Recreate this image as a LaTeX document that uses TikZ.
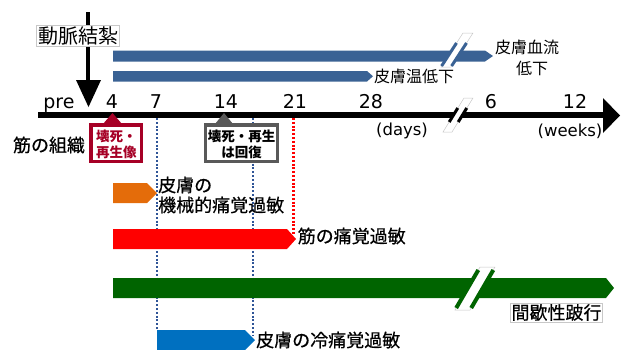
\documentclass[tikz,border=0pt]{standalone}
\usepackage{fontspec}
\newfontfamily\jp{Noto Sans CJK JP}
\newfontfamily\jpm[FakeBold=0.6]{Noto Sans CJK JP}
\newfontfamily\numf{DejaVu Sans}
\definecolor{bbar}{RGB}{58,98,148}
\definecolor{obar}{RGB}{228,108,10}
\definecolor{gbar}{RGB}{0,100,0}
\definecolor{cbar}{RGB}{0,112,192}
\definecolor{dred}{RGB}{166,0,38}
\definecolor{dgray}{RGB}{89,89,89}
\definecolor{dotblue}{RGB}{47,85,151}
\definecolor{lgray}{RGB}{200,200,200}
\newcommand\tlbar[6]{\fill[#1] (#2,#5) -- (#3,#5) -- (#4,{(#5+#6)/2}) -- (#3,#6) -- (#2,#6) -- cycle;}
\tikzset{
  ticklab/.style={font=\numf\fontsize{19}{19}\selectfont, inner sep=0pt, anchor=base},
  unitlab/.style={font=\numf\fontsize{16.5}{16.5}\selectfont, inner sep=0pt},
  lab/.style={font=\jp\fontsize{16}{19}\selectfont, inner sep=0pt},
  blab/.style={font=\jpm\fontsize{18}{20}\selectfont, inner sep=0pt},
  dotl/.style={line width=2.1pt, dash pattern=on 2pt off 1.8pt},
  brkbox/.style={fill=white, draw=lgray, line width=0.5pt},
}
\begin{document}
\begin{tikzpicture}[x=1pt,y=-1pt]
\useasboundingbox (0,0) rectangle (621,349);
% dotted guide lines
\draw[dotl, dotblue] (157,118) -- (157,330);
\draw[dotl, dotblue] (253,118) -- (253,336);
\draw[dotl, red] (293.5,118) -- (293.5,234);
% blue bars
\tlbar{bbar}{113}{485}{493}{50.5}{61.5}
\tlbar{bbar}{113}{367}{373}{71}{81.5}
% break on top bar
\fill[brkbox] (441,67) -- (451,67) -- (473,33) -- (463,33) -- cycle;
\draw[bbar, line width=3pt] (441.6,66) -- (456.5,43);
\draw[bbar, line width=3pt] (451.6,66) -- (466.5,43);
% axis
\draw[line width=6pt] (38,115) -- (605,115);
\fill (603,98) -- (620,115.5) -- (603,133) -- cycle;
% axis break
\fill[brkbox] (443,132) -- (452,132) -- (473,98) -- (464,98) -- cycle;
\draw[line width=3pt] (449.2,122) -- (457.8,108);
\draw[line width=3pt] (458.2,122) -- (466.8,108);
% ligation arrow
\draw[line width=4pt] (88,12) -- (88,82);
\fill (76,80) -- (101,80) -- (88.5,107) -- cycle;
\node[font=\jp\fontsize{20}{20}\selectfont, fill=white, draw=lgray, line width=0.6pt, inner sep=1.5pt] (lig) at (78,36) {動脈結紮};
% tick labels
\node[ticklab] (tpre) at (59,108) {pre};
\node[ticklab] (t4) at (112,108) {4};
\node[ticklab] (t7) at (156,108) {7};
\node[ticklab] (t14) at (226,108) {14};
\node[ticklab] (t21) at (295,108) {21};
\node[ticklab] (t28) at (371,108) {28};
\node[ticklab] (t6) at (491,108) {6};
\node[ticklab] (t12) at (575,108) {12};
\node[unitlab] (days) at (402,131) {(days)};
\node[unitlab] (weeks) at (570,131) {(weeks)};
% labels of blue bars
\node[lab] (ketsu1) at (527,47) {皮膚血流};
\node[lab] (ketsu2) at (532,68) {低下};
\node[lab, anchor=west] (temp) at (374,76) {皮膚温低下};
% muscle tissue
\node[blab] (kin) at (49,145) {筋の組織};
\fill[dred] (103,124) -- (122,124) -- (112.5,113) -- cycle;
\draw[dred, line width=3.2pt, fill=white] (91,125) rectangle (141.7,161.2);
\node[font=\jp\bfseries\fontsize{13.5}{15.5}\selectfont, text=dred, align=center, inner sep=0pt] (nec1) at (116.4,144.5) {壊死・\\再生像};
\fill[dgray] (215,124) -- (233,124) -- (224,113) -- cycle;
\draw[dgray, line width=3.2pt, fill=white] (205.6,125) rectangle (277.7,161.2);
\node[font=\jp\bfseries\fontsize{13.5}{15.5}\selectfont, align=center, inner sep=0pt] (nec2) at (241.7,144.5) {壊死・再生\\は回復};
% orange bar
\tlbar{obar}{113}{147}{157}{183}{203}
\node[blab, anchor=west, align=left] (mech) at (158,195) {皮膚の\\機械的痛覚過敏};
% red bar
\tlbar{red}{113}{287}{296}{229}{249}
\node[blab, anchor=west] (musc) at (297.5,236) {筋の痛覚過敏};
% green bar
\tlbar{gbar}{113}{606}{614}{278}{298}
\fill[brkbox] (455,310) -- (470,310) -- (495,267) -- (480,267) -- cycle;
\draw[gbar, line width=4pt] (456.2,308) -- (478.3,270);
\draw[gbar, line width=4pt] (471.2,308) -- (493.3,270);
\node[blab, draw=lgray, line width=0.6pt, inner sep=1pt] (ic) at (556.5,312.5) {間歇性跛行};
% cold blue bar
\tlbar{cbar}{157}{245}{255}{330}{350}
\node[blab, anchor=west] (cold) at (256,340) {皮膚の冷痛覚過敏};
\end{tikzpicture}
\end{document}
